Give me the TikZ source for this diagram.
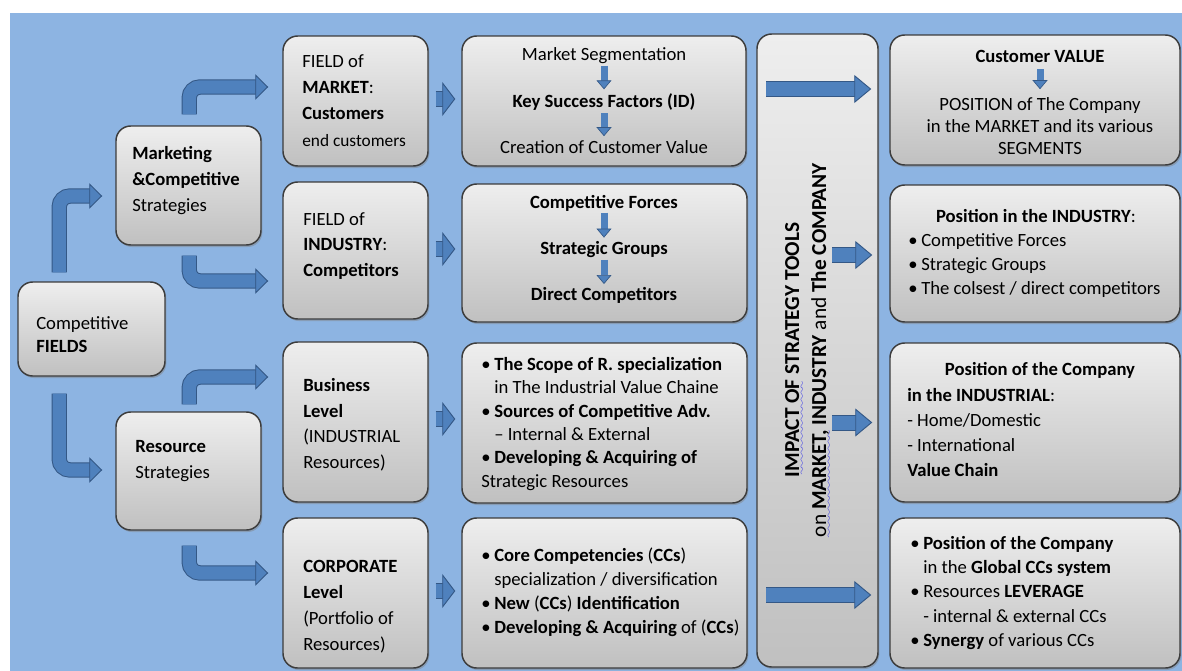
\documentclass[tikz,border=0pt]{standalone}
\usepackage{fontspec}
\setmainfont{Carlito}
\usetikzlibrary{arrows.meta,calc,shadows}

\definecolor{bgblue}{RGB}{141,180,226}
\definecolor{boxtop}{RGB}{238,238,238}
\definecolor{boxbot}{RGB}{192,192,192}
\definecolor{boxline}{RGB}{60,60,60}
\definecolor{arrowfill}{RGB}{79,129,189}
\definecolor{arrowedge}{RGB}{52,88,134}
\definecolor{squig}{RGB}{40,40,235}

% wavy blue underline, line spacing, bullets
\font\sixly=lasy6
\newcommand\spell[1]{\setbox0\hbox{#1}\rlap{\textcolor{squig}{\lower3.5pt\hbox to\wd0{\cleaders\hbox{\sixly\char58}\hfil}}}\box0\relax}
\newcommand\fsz[1]{\fontsize{14}{#1}\selectfont}
\newcommand\bu{\makebox[9.75pt][l]{\textbullet}}
\newcommand\ind{\hspace*{9.75pt}}

\tikzset{
  box/.style={draw=boxline, line width=1.1pt, rounded corners=11pt,
    top color=boxtop, bottom color=boxbot,
    drop shadow={shadow xshift=1pt, shadow yshift=-1.5pt, opacity=.45}},
  txt/.style={anchor=north west, inner sep=0pt, align=left, font=\fsz{19.5}},
  ctr/.style={inner sep=0pt, align=center, font=\fsz{18}},
  fat/.style={line width=10.5pt, draw=arrowfill,
    -{Triangle[length=12.75pt 0 0, width=21pt 0 0, color=arrowedge, fill=arrowfill, line width=0.7pt 0 0]},
    preaction={draw=arrowedge, line width=12pt, shorten >=10pt, -}},
  bent/.style={line width=10pt, draw=arrowfill, rounded corners=8pt,
    -{Triangle[length=9.75pt 0 0, width=19pt 0 0, color=arrowedge, fill=arrowfill, line width=0.7pt 0 0]},
    preaction={draw=arrowedge, line width=11.5pt, rounded corners=8pt, shorten >=7.5pt, -}},
  stub/.style={line width=10.5pt, draw=arrowfill,
    -{Triangle[length=9.75pt 0 0, width=25.5pt 0 0, color=arrowedge, fill=arrowfill, line width=0.7pt 0 0]},
    preaction={draw=arrowedge, line width=12pt, shorten >=7.5pt, -}},
  down/.style={line width=5.25pt, draw=arrowfill,
    -{Triangle[length=6.75pt 0 0, width=11.25pt 0 0, color=arrowedge, fill=arrowfill, line width=0.5pt 0 0]}}
}

\begin{document}
\begin{tikzpicture}[x=0.75pt,y=0.75pt,yscale=-1]
\useasboundingbox (0,0) rectangle (1182,671);
\fill[bgblue] (10,13) rectangle (1182,671);

%Boxes
\node[box, minimum width=110.25pt, minimum height=70.5pt] (fields) at (91.5,329) {};
\node[box, minimum width=108.75pt, minimum height=89.25pt] (mkt) at (188.5,185.5) {};
\node[box, minimum width=108.75pt, minimum height=88.5pt] (res) at (188.5,471) {};
\node[box, minimum width=108.75pt, minimum height=97.5pt] (fmkt) at (355.5,101) {};
\node[box, minimum width=108.75pt, minimum height=102.75pt] (find) at (355.5,250.5) {};
\node[box, minimum width=108.75pt, minimum height=120pt] (bus) at (355.5,422) {};
\node[box, minimum width=108.75pt, minimum height=112.5pt] (corp) at (355.5,593) {};
\node[box, minimum width=213pt, minimum height=97.5pt] (m1) at (604,101) {};
\node[box, minimum width=213.75pt, minimum height=103.5pt] (m2) at (604.5,253) {};
\node[box, minimum width=213.75pt, minimum height=120pt] (m3) at (604.5,423) {};
\node[box, minimum width=213.75pt, minimum height=112.5pt] (m4) at (604.5,593) {};
\node[box, minimum width=90.75pt, minimum height=474.75pt] (imp) at (817.5,350.5) {};
\node[box, minimum width=217.5pt, minimum height=97.5pt] (r1) at (1035,100) {};
\node[box, minimum width=217.5pt, minimum height=102.75pt] (r2) at (1035,253.5) {};
\node[box, minimum width=217.5pt, minimum height=119.25pt] (r3) at (1035,422.5) {};
\node[box, minimum width=217.5pt, minimum height=112.5pt] (r4) at (1035,593) {};

%Bent arrows
\draw[bent] ($(fields.north west)+(42,-9)$) |- ($(mkt.west)+(-13,10.5)$);
\draw[bent] ($(fields.south west)+(42,17)$) |- ($(res.west)+(-13,-1)$);
\draw[bent] ($(mkt.north west)+(74,-11)$) |- ($(fmkt.west)+(-14,-14)$);
\draw[bent] ($(mkt.south west)+(74,10)$) |- ($(find.west)+(-14,30.5)$);
\draw[bent] ($(res.north west)+(74,-7)$) |- ($(bus.west)+(-14,-45)$);
\draw[bent] ($(res.south west)+(74,15)$) |- ($(corp.west)+(-14,-20)$);

%Short arrows into the middle column
\draw[stub] ($(fmkt.east)+(7,-2)$) -- ($(m1.west |- fmkt.east)+(-6,-2)$);
\draw[stub] ($(find.east)+(7,-1.5)$) -- ($(m2.west |- find.east)+(-6,-1.5)$);
\draw[stub] ($(bus.east)+(7,-3)$) -- ($(m3.west |- bus.east)+(-6,-3)$);
\draw[stub] ($(corp.east)+(7,-2)$) -- ($(m4.west |- corp.east)+(-6,-2)$);

%Arrows out of the impact column
\draw[fat] ($(imp.west |- r1.west)+(10,-11)$) -- ($(r1.west)+(-18,-11)$);
\draw[fat] ($(imp.west |- r2.west)+(76,1.5)$) -- ($(r2.west)+(-17,1.5)$);
\draw[fat] ($(imp.west |- r3.west)+(76,0)$) -- ($(r3.west)+(-17,0)$);
\draw[fat] ($(imp.west |- r4.west)+(10,2)$) -- ($(r4.west)+(-18,2)$);

% Text Nodes, left columns
\node[txt, font=\fsz{17.25}] (fields-t) at (36,316) {Competitive\\\textbf{FIELDS}};
\node[txt] (mkt-t) at (132,146) {\textbf{Marketing}\\\textbf{\&Competitive}\\Strategies};
\node[txt] (res-t) at (135,440) {\textbf{Resource}\\Strategies};
\node[txt, font=\fsz{19.75}] (fmkt-t) at (302,54) {FIELD of\\\textbf{MARKET}:\\\textbf{Customers}\\{\fontsize{13}{19.75}\selectfont end customers}};
\node[txt, font=\fsz{19.25}] (find-t) at (303,212) {FIELD of\\\textbf{INDUSTRY}:\\\textbf{Competitors}};
\node[txt, font=\fsz{19.25}] (bus-t) at (303,378) {\textbf{Business}\\\textbf{Level}\\(INDUSTRIAL\\Resources)};
\node[txt] (corp-t) at (303,560) {\textbf{CORPORATE}\\\textbf{Level}\\(Portfolio of\\Resources)};

% Text Nodes, middle column
\node[ctr] (seg) at (604,56) {Market Segmentation};
\node[ctr] (ksf) at (604,102) {\textbf{Key Success Factors (ID)}};
\node[ctr] (ccv) at (604,147) {Creation of Customer Value};
\draw[down, shorten <=1pt, shorten >=3pt] (seg) -- (ksf);
\draw[down, shorten <=2pt, shorten >=3pt] (ksf) -- (ccv);

\node[ctr] (cf) at (604,203) {\textbf{Competitive Forces}};
\node[ctr] (sg) at (604,250) {\textbf{Strategic Groups}};
\node[ctr] (dc) at (604,295) {\textbf{Direct Competitors}};
\draw[down, shorten <=1pt, shorten >=3pt] (cf) -- (sg);
\draw[down, shorten <=1pt, shorten >=2pt] (sg) -- (dc);

\node[txt, font=\fsz{17.5}] (m3-t) at (481,357) {\bu\textbf{The Scope of R. specialization}\\
  \ind in The Industrial Value Chaine\\
  \bu\textbf{Sources of Competitive Adv.}\\
  \ind -- Internal \& External\\
  \bu\textbf{Developing \& Acquiring of}\\
  Strategic Resources};
\node[txt, font=\fsz{18}] (m4-t) at (481,548) {\bu\textbf{Core Competencies} (\textbf{CCs})\\
  \ind specialization / diversification\\
  \bu\textbf{New} (\textbf{CCs}) \textbf{Identification}\\
  \bu\textbf{Developing \& Acquiring} of (\textbf{CCs})};

% Text Node, impact column
\node[ctr, rotate=90, font=\fontsize{16}{20.25}\selectfont] (imp-t) at (808,350)
  {\textbf{\spell{IMPACT OF} STRATEGY TOOLS}\\\spell{on \textbf{MARKET,}} \textbf{INDUSTRY} and \textbf{The COMPANY}};

% Text Nodes, right column
\node[ctr] (cval) at (1040,56) {\textbf{Customer VALUE}};
\node[ctr, font=\fsz{16.5}] (pos) at (1040,126) {POSITION of The Company\\in the MARKET and its various\\SEGMENTS};
\draw[down, shorten <=5pt, shorten >=6pt] (cval) -- (pos);

\node[ctr] (r2-h) at (1036,216) {\textbf{Position in the INDUSTRY}:};
\node[txt, font=\fsz{18}] (r2-t) at (908,233) {\bu Competitive Forces\\\bu Strategic Groups\\\bu The colsest / direct competitors};

\node[ctr] (r3-h) at (1040,370) {\textbf{Position of the Company}};
\node[txt, font=\fsz{18.75}] (r3-t) at (907,388) {\textbf{in the INDUSTRIAL}:\\- Home/Domestic\\- International\\\textbf{Value Chain}};

\node[txt, font=\fsz{18.2}] (r4-t) at (910,536) {\bu\textbf{Position of the Company}\\
  \ind in the \textbf{Global CCs system}\\
  \bu Resources \textbf{LEVERAGE}\\
  \ind - internal \& external CCs\\
  \bu\textbf{Synergy} of various CCs};
\end{tikzpicture}
\end{document}
